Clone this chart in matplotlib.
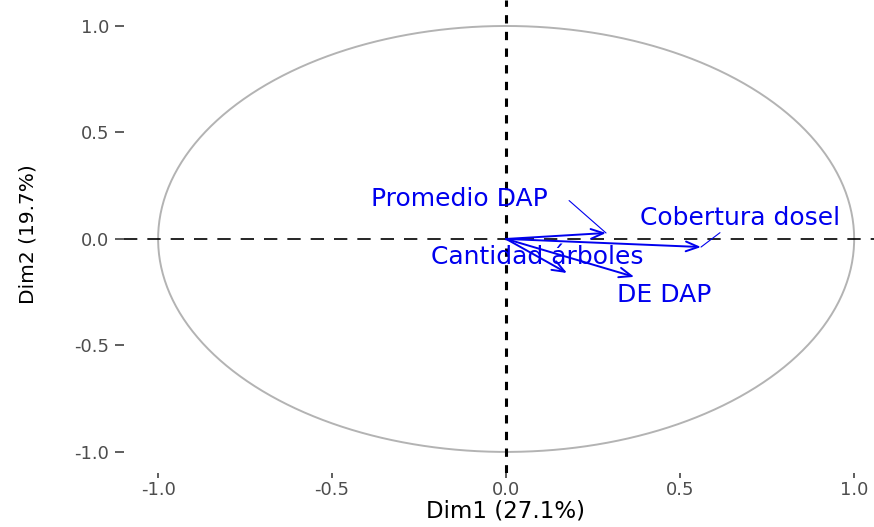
import matplotlib
matplotlib.use("Agg")
import matplotlib.pyplot as plt
import numpy as np

# Datos del circulo de correlaciones (PCA)
variables = ["Promedio DAP", "Cobertura dosel", "Cantidad árboles", "DE DAP"]
dim1 = [0.287, 0.560, 0.175, 0.368]
dim2 = [0.028, -0.038, -0.160, -0.178]
dim1_label = "Dim1 (27.1%)"
dim2_label = "Dim2 (19.7%)"
tick_vals = [-1.0, -0.5, 0.0, 0.5, 1.0]
tick_labels = ["-1.0", "-0.5", "0.0", "0.5", "1.0"]

# posicion de las etiquetas (repel) y si llevan segmento
lab_x = [-0.134, 0.671, 0.089, 0.455]
lab_y = [0.153, 0.066, -0.117, -0.296]
relpos = [(1.12, 0.45), (0.42, 0.0), None, None]

plt.rcParams['font.family'] = ['DejaVu Sans']
plt.rcParams['lines.scale_dashes'] = False

W, H = 874, 527
fig = plt.figure(figsize=(W / 100, H / 100), dpi=100)
ax = fig.add_axes([124 / W, 54 / H, 750 / W, 473 / H])
ax.set_xlim(-1.098, 1.057)
ax.set_ylim(-1.099, 1.122)
for s in ax.spines.values():
    s.set_visible(False)

# circulo unitario
t = np.linspace(0, 2 * np.pi, 400)
ax.plot(np.cos(t), np.sin(t), color='#b3b3b3', lw=1.4, zorder=1)

# ejes
ax.axhline(0, color='black', lw=1.2, linestyle=(0, (9.6, 7.2)), zorder=2)
ax.axvline(0, color='black', lw=2.2, linestyle=(0, (6, 6)), zorder=2)

# flechas
for x, y in zip(dim1, dim2):
    ax.annotate('', xy=(x, y), xytext=(0, 0),
                arrowprops=dict(arrowstyle='->,head_length=0.9,head_width=0.35',
                                color='#0000ee', lw=1.4, shrinkA=0, shrinkB=0,
                                mutation_scale=10),
                zorder=3)

# etiquetas
for name, x, y, lx, ly, rp in zip(variables, dim1, dim2, lab_x, lab_y, relpos):
    if rp is None:
        ax.text(lx, ly, name, color='#0000ee', fontsize=18, ha='center',
                va='baseline', zorder=4)
    else:
        ax.annotate(name, xy=(x, y), xytext=(lx, ly), color='#0000ee',
                    fontsize=18, ha='center', va='baseline', zorder=4,
                    arrowprops=dict(arrowstyle='-', color='#0000ee', lw=0.8,
                                    shrinkA=0, shrinkB=0, relpos=rp))

ax.set_xticks(tick_vals)
ax.set_xticklabels(tick_labels)
ax.set_yticks(tick_vals)
ax.set_yticklabels(tick_labels)
ax.tick_params(axis='x', length=3.6, width=1.1, color='#333333', pad=2.5,
               labelsize=13, labelcolor='#4d4d4d')
ax.tick_params(axis='y', length=6.5, width=1.1, color='#333333', pad=4.3,
               labelsize=13, labelcolor='#4d4d4d')

fig.text(506 / W, 1 - 511 / H, dim1_label, fontsize=16.5, ha='center', va='center')
fig.text(27.5 / W, 1 - 234.5 / H, dim2_label, fontsize=14.5, ha='center',
         va='center', rotation=90)

fig.savefig("out.png", dpi=100)
